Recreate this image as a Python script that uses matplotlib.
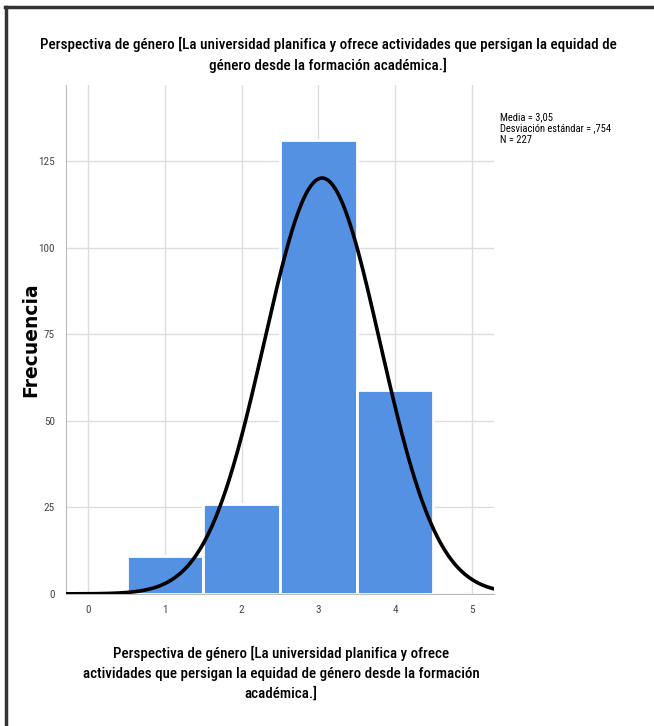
import numpy as np
import matplotlib.pyplot as plt
from matplotlib.lines import Line2D

# datos del histograma
categorias = [1, 2, 3, 4]
frecuencias = [11, 26, 131, 59]
media = 3.05
desv = 0.754
n = 227

x_ticks = [0, 1, 2, 3, 4, 5]
y_ticks = [0, 25, 50, 75, 100, 125]

titulo = ("Perspectiva de género [La universidad planifica y ofrece actividades que persigan la equidad de\n"
          "género desde la formación académica.]")
etiqueta_x = ("Perspectiva de género [La universidad planifica y ofrece\n"
              "actividades que persigan la equidad de género desde la formación\n"
              "académica.]")

fuente = ['Roboto Condensed', 'DejaVu Sans']
plt.rcParams['font.family'] = fuente

fig = plt.figure(figsize=(6.54, 7.26), dpi=100)
ax = fig.add_axes([0.101, 0.182, 0.654, 0.701])

ax.bar(categorias, frecuencias, width=1.0, color='#5591e3', edgecolor='white', linewidth=2, zorder=2)

# curva normal
xs = np.linspace(-0.29, 5.29, 400)
ys = n * 1.0 / (desv * np.sqrt(2 * np.pi)) * np.exp(-0.5 * ((xs - media) / desv) ** 2)
ax.plot(xs, ys, color='black', linewidth=2.6, zorder=3)

ax.set_xlim(-0.29, 5.29)
ax.set_ylim(0, 147)
ax.set_xticks(x_ticks)
ax.set_yticks(y_ticks)
ax.tick_params(length=0, labelsize=8, colors='#444444', pad=8)
ax.grid(True, color='#dddddd', linewidth=1, zorder=0)
ax.set_axisbelow(True)
for s in ['top', 'right']:
    ax.spines[s].set_visible(False)
for s in ['left', 'bottom']:
    ax.spines[s].set_color('#bbbbbb')

ax.set_ylabel('Frecuencia', fontsize=13.5, fontweight='bold', family='DejaVu Sans')
ax.yaxis.set_label_coords(-0.06, 0.5)
ax.set_xlabel(etiqueta_x, fontsize=10.8, fontweight='medium', linespacing=1.5)
ax.xaxis.set_label_coords(0.503, -0.103)
ax.xaxis.label.set_va('top')

fig.text(0.502, 0.899, titulo, ha='center', va='bottom', fontsize=10.9,
         fontweight='medium', linespacing=1.5)

fig.text(0.765, 0.846, "Media = 3,05\nDesviación estándar = ,754\nN = 227",
         ha='left', va='top', fontsize=7.6, linespacing=1.2)

# marco
fig.add_artist(Line2D([0.008, 0.999], [0.990, 0.990], color='#333333', linewidth=2.5))
fig.add_artist(Line2D([0.009, 0.009], [0.0, 0.990], color='#333333', linewidth=2.5))

fig.savefig('out.png', dpi=100)
